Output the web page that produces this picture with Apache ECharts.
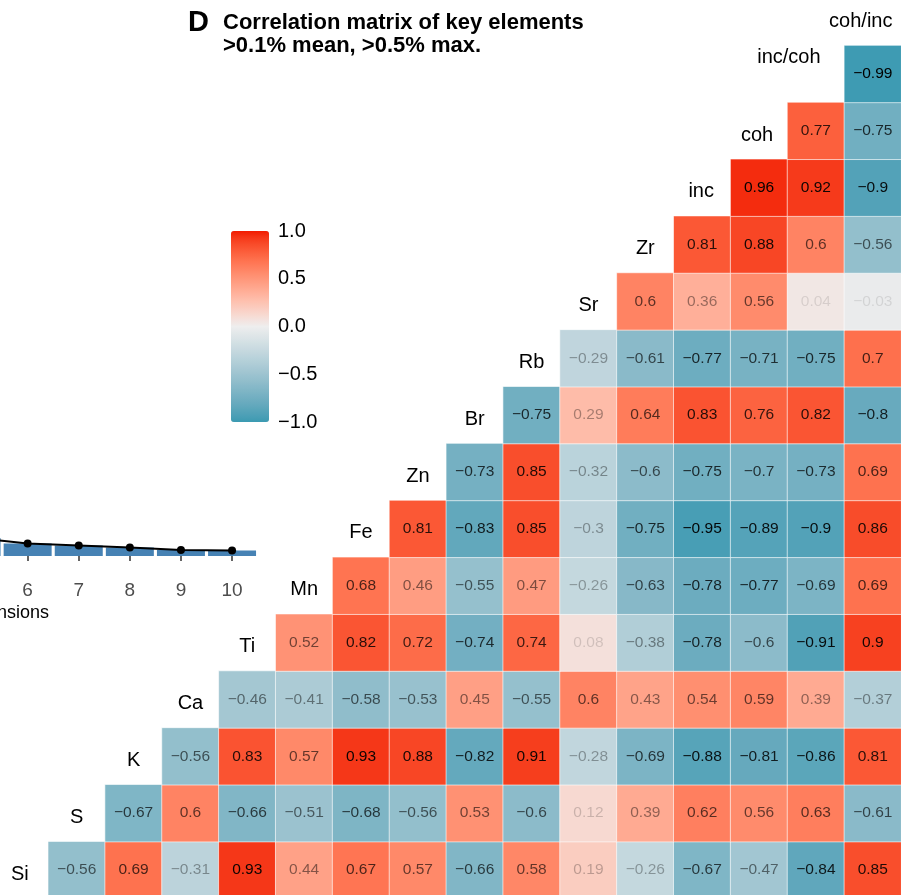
<!DOCTYPE html>
<html><head><meta charset="utf-8">
<script src="https://cdn.jsdelivr.net/npm/echarts@6/dist/echarts.min.js"></script>
<style>
html,body{margin:0;padding:0;background:#fff;overflow:hidden;width:901px;height:895px;position:relative}
#c{position:absolute;left:-320px;top:-40px;width:1240px;height:960px}
</style>
</head><body><div id="c"></div>
<script>
// ---------------- data ----------------
const variables = ['Si','S','K','Ca','Ti','Mn','Fe','Zn','Br','Rb','Sr','Zr','inc','coh','inc/coh','coh/inc'];
// correlation of each variable with every variable that follows it in `variables`
const corSi     = [-0.56, 0.69, -0.31, 0.93, 0.44, 0.67, 0.57, -0.66, 0.58, 0.19, -0.26, -0.67, -0.47, -0.84, 0.85];
const corS      = [-0.67, 0.6, -0.66, -0.51, -0.68, -0.56, 0.53, -0.6, 0.12, 0.39, 0.62, 0.56, 0.63, -0.61];
const corK      = [-0.56, 0.83, 0.57, 0.93, 0.88, -0.82, 0.91, -0.28, -0.69, -0.88, -0.81, -0.86, 0.81];
const corCa     = [-0.46, -0.41, -0.58, -0.53, 0.45, -0.55, 0.6, 0.43, 0.54, 0.59, 0.39, -0.37];
const corTi     = [0.52, 0.82, 0.72, -0.74, 0.74, 0.08, -0.38, -0.78, -0.6, -0.91, 0.9];
const corMn     = [0.68, 0.46, -0.55, 0.47, -0.26, -0.63, -0.78, -0.77, -0.69, 0.69];
const corFe     = [0.81, -0.83, 0.85, -0.3, -0.75, -0.95, -0.89, -0.9, 0.86];
const corZn     = [-0.73, 0.85, -0.32, -0.6, -0.75, -0.7, -0.73, 0.69];
const corBr     = [-0.75, 0.29, 0.64, 0.83, 0.76, 0.82, -0.8];
const corRb     = [-0.29, -0.61, -0.77, -0.71, -0.75, 0.7];
const corSr     = [0.6, 0.36, 0.56, 0.04, -0.03];
const corZr     = [0.81, 0.88, 0.6, -0.56];
const corInc    = [0.96, 0.92, -0.9];
const corCoh    = [0.77, -0.75];
const corIncCoh = [-0.99];
const legendTicks = [-1, -0.5, 0, 0.5, 1];
// partial scree plot (left panel, mostly cropped)
const screeDims = ['1','2','3','4','5','6','7','8','9','10'];
const screeVariance = [48.2, 18.5, 9.6, 6.1, 3.6, 2.5, 2.1, 1.7, 1.2, 1.1];

// ---------------- helpers ----------------
const FONT = "'Liberation Sans', Arial, Helvetica, sans-serif";
const OX = 320, OY = 40; // chart canvas is shifted by this much behind the page window
const fmt = v => String(v).replace('-', '\u2212');
function hex2rgb(h){h=h.replace('#','');return [0,2,4].map(i=>parseInt(h.substr(i,2),16));}
function srgb2lin(c){c/=255;return c<=0.04045?c/12.92:Math.pow((c+0.055)/1.055,2.4);}
function lin2srgb(c){c=c<=0.0031308?12.92*c:1.055*Math.pow(c,1/2.4)-0.055;return Math.max(0,Math.min(255,Math.round(c*255)));}
const WX=0.95047,WY=1,WZ=1.08883;
function rgb2lab(rgb){const [r,g,b]=rgb.map(srgb2lin);
  const x=(r*0.4124564+g*0.3575761+b*0.1804375)/WX,y=(r*0.2126729+g*0.7151522+b*0.0721750)/WY,z=(r*0.0193339+g*0.1191920+b*0.9503041)/WZ;
  const f=t=>t>0.008856?Math.cbrt(t):(7.787*t+16/116);
  return [116*f(y)-16,500*(f(x)-f(y)),200*(f(y)-f(z))];}
function lab2rgb(lab){const fy=(lab[0]+16)/116,fx=fy+lab[1]/500,fz=fy-lab[2]/200;
  const fi=t=>t*t*t>0.008856?t*t*t:(t-16/116)/7.787;
  const x=fi(fx)*WX,y=fi(fy)*WY,z=fi(fz)*WZ;
  const r=x*3.2404542-y*1.5371385-z*0.4985314,g=-x*0.9692660+y*1.8760108+z*0.0415560,b=x*0.0556434-y*0.2040259+z*1.0572252;
  return [r,g,b].map(lin2srgb);}
function labRamp(c1,c2,c3,n){const L=[c1,c2,c3].map(c=>rgb2lab(hex2rgb(c)));const out=[];
  for(let i=0;i<n;i++){const t=i/(n-1)*2;const a=t<=1?L[0]:L[1],b=t<=1?L[1]:L[2],u=t<=1?t:t-1;
    const lab=[0,1,2].map(k=>a[k]+(b[k]-a[k])*u);const rgb=lab2rgb(lab);out.push('rgb('+rgb.join(',')+')');}
  return out;}
const ramp = labRamp('#3B9AB2','#EEEEEE','#F21A00',61);

// ---------------- build series data ----------------
const rows = [corSi,corS,corK,corCa,corTi,corMn,corFe,corZn,corBr,corRb,corSr,corZr,corInc,corCoh,corIncCoh];
const absVals = rows.flat().map(Math.abs);
const aMin = Math.min(...absVals), aMax = Math.max(...absVals);
const heatData = [];
rows.forEach((row, r) => row.forEach((v, k) => {
  const alpha = 0.1 + 0.9*(Math.abs(v)-aMin)/(aMax-aMin);
  heatData.push({value:[r+1+k, r, v], label:{color:'rgba(0,0,0,'+alpha.toFixed(3)+')'}});
}));
const diagOffset = {'inc/coh':[-27,-17],'coh/inc':[-12,4],'coh':[-2,5],'inc':[-1,4]};
const diagData = variables.map((n,i)=>({value:[i,i], name:n, label:{offset: diagOffset[n] || [0,4]}}));

// ---------------- chart ----------------
const chart = echarts.init(document.getElementById('c'), null, {renderer:'canvas'});
chart.setOption({
  animation:false,
  backgroundColor:'#fff',
  textStyle:{fontFamily:FONT},
  title:[
    {text:'D', left:188+OX, top:8+OY, padding:0, textStyle:{fontSize:29, fontWeight:'bold', color:'#000', fontFamily:FONT, lineHeight:30}},
    {text:'Correlation matrix of key elements\n>0.1% mean, >0.5% max.', left:223+OX, top:11+OY, padding:0,
     textStyle:{fontSize:22, fontWeight:'bold', color:'#000', fontFamily:FONT, lineHeight:23.5}}
  ],
  grid:[
    {left:-8.6+OX, top:-11.3+OY, width:909.8, height:909.8},
    {left:-253.4+OX, width:511, top:306+OY, height:250},
    {left:231+OX, top:231+OY, width:38, height:191}
  ],
  xAxis:[
    {type:'category', gridIndex:0, data:variables, show:false},
    {type:'category', gridIndex:1, data:screeDims, offset:21,
     axisLine:{show:false}, axisTick:{show:true, alignWithLabel:true, length:5, lineStyle:{color:'#333', width:1.5}},
     axisLabel:{interval:0, margin:4, fontSize:19, color:'#4D4D4D', fontFamily:FONT},
     name:'Dimensions', nameLocation:'middle', nameGap:27, nameTextStyle:{fontSize:18, color:'#000', fontFamily:FONT}},
    {type:'value', gridIndex:2, show:false, min:0, max:1}
  ],
  yAxis:[
    {type:'category', gridIndex:0, data:variables, show:false},
    {type:'value', gridIndex:1, min:0, max:50, show:false},
    {type:'value', gridIndex:2, min:-1, max:1, interval:0.5, position:'right',
     axisLine:{show:false}, splitLine:{show:false},
     axisTick:{show:true, inside:true, length:7, customValues:[-0.5,0,0.5], lineStyle:{color:'#fff', width:1}},
     axisLabel:{margin:9, fontSize:20, color:'#000', fontFamily:FONT, customValues:legendTicks, formatter:v=>fmt(v.toFixed(1))}},
    {type:'value', gridIndex:2, min:-1, max:1, interval:0.5, position:'left',
     axisLine:{show:false}, splitLine:{show:false}, axisLabel:{show:false},
     axisTick:{show:true, inside:true, length:7, customValues:[-0.5,0,0.5], lineStyle:{color:'#fff', width:1}}}
  ],
  visualMap:{
    type:'continuous', min:-1, max:1, seriesIndex:0, calculable:false, orient:'vertical',
    left:231+OX, top:231+OY, itemWidth:38, itemHeight:191, padding:0, hoverLink:false,
    inRange:{color:ramp}, textStyle:{fontSize:0}
  },
  series:[
    {type:'heatmap', xAxisIndex:0, yAxisIndex:0, data:heatData, silent:true,
     itemStyle:{borderColor:'rgba(255,255,255,0.6)', borderWidth:1},
     label:{show:true, fontSize:15.5, fontFamily:FONT, formatter:p=>fmt(p.value[2])},
     emphasis:{disabled:true}},
    {type:'scatter', xAxisIndex:0, yAxisIndex:0, data:diagData, symbolSize:1, silent:true,
     itemStyle:{color:'rgba(0,0,0,0)', opacity:1},
     label:{show:true, position:'inside', formatter:'{b}', fontSize:20, color:'#000', fontFamily:FONT}},
    {type:'bar', xAxisIndex:1, yAxisIndex:1, data:screeVariance, barWidth:48, silent:true,
     itemStyle:{color:'#4682B4'}},
    {type:'line', xAxisIndex:1, yAxisIndex:1, data:screeVariance, silent:true,
     symbol:'circle', symbolSize:8, itemStyle:{color:'#000'}, lineStyle:{color:'#000', width:2.2}}
  ]
});
</script></body></html>
